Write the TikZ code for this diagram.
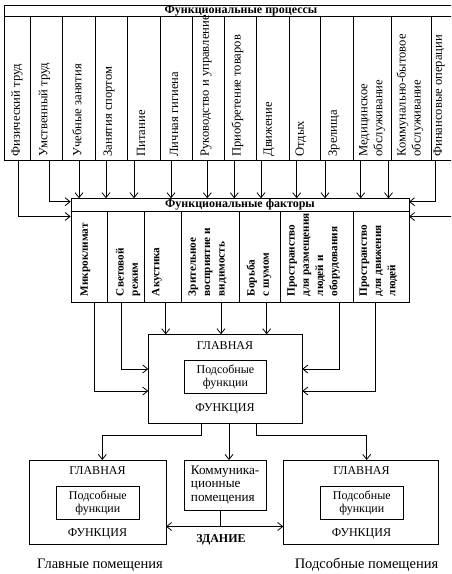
\documentclass[tikz,border=0pt]{standalone}
\usepackage{fontspec}
\setmainfont{Liberation Serif}
\usetikzlibrary{arrows.meta}
\begin{document}
\begin{tikzpicture}[x=1pt,y=-1pt,
  line width=0.9pt,
  arr/.style={-{Straight Barb[length=5pt,width=8pt,line width=0.8pt]}},
  darr/.style={{Straight Barb[length=5pt,width=8pt,line width=0.8pt]}-{Straight Barb[length=5pt,width=8pt,line width=0.8pt]}},
  box/.style={draw, rectangle, inner sep=0pt, anchor=north west},
  ptxt/.style={rotate=90, anchor=west, inner sep=0pt, align=left, font=\fontsize{12.6}{15}\selectfont},
  ftxt/.style={rotate=90, anchor=west, inner sep=0pt, align=left, font=\bfseries\fontsize{11.2}{14.3}\selectfont},
  head/.style={inner sep=0pt, font=\bfseries\fontsize{12}{14}\selectfont},
  btxt/.style={inner sep=0pt, align=center, font=\fontsize{12}{13}\selectfont},
  captxt/.style={inner sep=0pt, font=\fontsize{14.5}{16}\selectfont}
]
\useasboundingbox (0,0) rectangle (451,574);
\clip (0,0) rectangle (451,574);

% ---------- processes table ----------
\node[box, minimum width=452pt, minimum height=155pt] (proc) at (4,5) {};
\coordinate (phl) at (4,16);
\coordinate (phr) at (456,16);
\draw (phl) -- (phr);
\foreach \x in {30.7,62.7,95,127.3,160,192.3,224,256.7,289,320.7,353.3,391.7,431}
  \draw (\x,16) -- (\x,160);
\node[head] (proch) at (241,10.5) {Функциональные процессы};

\node[ptxt] (c1) at (17,157) {Физический труд};
\node[ptxt] (c2) at (44.5,157) {Умственный труд};
\node[ptxt] (c3) at (77,157) {Учебные занятия};
\node[ptxt] (c4) at (109,157) {Занятия спортом};
\node[ptxt] (c5) at (141,157) {Питание};
\node[ptxt] (c6) at (174,157) {Личная гигиена};
\node[ptxt] (c7) at (206,157) {Руководство и управление};
\node[ptxt] (c8) at (237.5,157) {Приобретение товаров};
\node[ptxt] (c9) at (269,157) {Движение};
\node[ptxt] (c10) at (301,157) {Отдых};
\node[ptxt] (c11) at (334,157) {Зрелища};
\node[ptxt] (c12) at (372,157) {Медицинское\\обслуживание};
\node[ptxt] (c13) at (410,157) {Коммунально-бытовое\\обслуживание};
\node[ptxt] (c14) at (439,157) {Финансовые операции};

% ---------- factors table ----------
\node[box, minimum width=338.3pt, minimum height=103.4pt] (fac) at (70.7,198.3) {};
\draw (70.7,211.7) -- (409,211.7);
\foreach \x in {107.3,144.3,181.7,239.3,280,353.3}
  \draw (\x,211.7) -- (\x,301.7);
\node[head] (fach) at (240,205) {Функциональные факторы};

\node[ftxt] (f1) at (85.5,296.5) {Микроклимат};
\node[ftxt] (f2) at (128,296.5) {Световой\\режим};
\node[ftxt] (f3) at (157,296.5) {Акустика};
\node[ftxt] (f4) at (207.5,296.5) {Зрительное\\восприятие и\\видимость};
\node[ftxt] (f5) at (259,296.5) {Борьба\\с шумом};
\node[ftxt] (f6) at (313.5,296.5) {Пространство\\для размещения\\людей и\\оборудования};
\node[ftxt] (f7) at (378.5,296.5) {Пространство\\для движения\\людей};

% arrows processes -> factors
\foreach \x [count=\i] in {79,106,134,171,207.3,234.3,261,296.7,325,360.7,388.5}{
  \coordinate (pa\i) at (\x,160);
  \coordinate (pb\i) at (\x,198.3);
  \draw[arr] (pa\i) -- (pb\i);
}
\coordinate (s1) at (18.3,160);   \coordinate (e1) at (70.7,216.5);
\coordinate (s2) at (49,160);     \coordinate (e2) at (70.7,201.7);
\coordinate (s3) at (435,160);    \coordinate (e3) at (409,201.7);
\coordinate (s4) at (452,216.5);  \coordinate (e4) at (409,216.5);
\draw[arr] (s1) |- (e1);
\draw[arr] (s2) |- (e2);
\draw[arr] (s3) |- (e3);
\draw[arr] (s4) -- (e4);

% ---------- main function box ----------
\node[box, minimum width=154pt, minimum height=88.4pt] (main) at (148.3,334.3) {};
\node[btxt] (mg) at (225,345.5) {ГЛАВНАЯ};
\node[box, minimum width=82pt, minimum height=33.3pt] (minner) at (184,360) {};
\node[btxt] (ms) at (minner.center) {Подсобные\\функции};
\node[btxt] (mf) at (225,409) {ФУНКЦИЯ};

% factors -> main
\coordinate (g1) at (94,301.7);   \coordinate (h1) at (148.3,391);
\coordinate (g2) at (121,301.7);  \coordinate (h2) at (148.3,369);
\coordinate (g3) at (165.7,301.7); \coordinate (h3) at (165.7,334.3);
\coordinate (g4) at (221,301.7);  \coordinate (h4) at (221,334.3);
\coordinate (g5) at (266.7,301.7); \coordinate (h5) at (266.7,334.3);
\coordinate (g6) at (339,301.7);  \coordinate (h6) at (302.3,369);
\coordinate (g7) at (375.7,301.7); \coordinate (h7) at (302.3,391);
\draw[arr] (g1) |- (h1);
\draw[arr] (g2) |- (h2);
\draw[arr] (g3) -- (h3);
\draw[arr] (g4) -- (h4);
\draw[arr] (g5) -- (h5);
\draw[arr] (g6) |- (h6);
\draw[arr] (g7) |- (h7);

% ---------- lower boxes ----------
\node[box, minimum width=136.7pt, minimum height=84pt] (lbox) at (29.3,460) {};
\node[btxt] (lg) at (97.5,471) {ГЛАВНАЯ};
\node[box, minimum width=83.3pt, minimum height=33pt] (linner) at (55.7,485.7) {};
\node[btxt] (ls) at (linner.center) {Подсобные\\функции};
\node[btxt] (lf) at (97.5,534) {ФУНКЦИЯ};

\node[box, minimum width=81.4pt, minimum height=50pt] (cbox) at (184.3,460) {};
\node[inner sep=0pt, align=left, anchor=west, font=\fontsize{13.2}{13.2}\selectfont] (ct) at (190.5,485) {Коммуника-\\ционные\\помещения};

\node[box, minimum width=155pt, minimum height=84pt] (rbox) at (283.3,460) {};
\node[btxt] (rg) at (361.5,471) {ГЛАВНАЯ};
\node[box, minimum width=82.7pt, minimum height=33pt] (rinner) at (320,485.7) {};
\node[btxt] (rs) at (rinner.center) {Подсобные\\функции};
\node[btxt] (rf) at (361.5,534) {ФУНКЦИЯ};

% main -> lower boxes
\coordinate (k1) at (201.7,422.7); \coordinate (k1b) at (201.7,435.5); \coordinate (m1) at (102.3,460);
\coordinate (k2) at (229,422.7);   \coordinate (m2) at (229,460);
\coordinate (k3) at (256.5,422.7); \coordinate (k3b) at (256.5,435.5); \coordinate (m3) at (366.7,460);
\draw[arr] (k1) -- (k1b) -| (m1);
\draw[arr] (k2) -- (m2);
\draw[arr] (k3) -- (k3b) -| (m3);

% building line
\coordinate (zl) at (166,526.5);
\coordinate (zr) at (283.3,526.5);
\coordinate (zc) at (220,510);
\coordinate (zm) at (220,526.5);
\draw[darr] (zl) -- (zr);
\draw (zc) -- (zm);
\node[head] (zd) at (221,540) {ЗДАНИЕ};

% captions
\node[captxt] (cap1) at (100,565) {Главные помещения};
\node[captxt] (cap2) at (366.5,565) {Подсобные помещения};
\end{tikzpicture}
\end{document}
